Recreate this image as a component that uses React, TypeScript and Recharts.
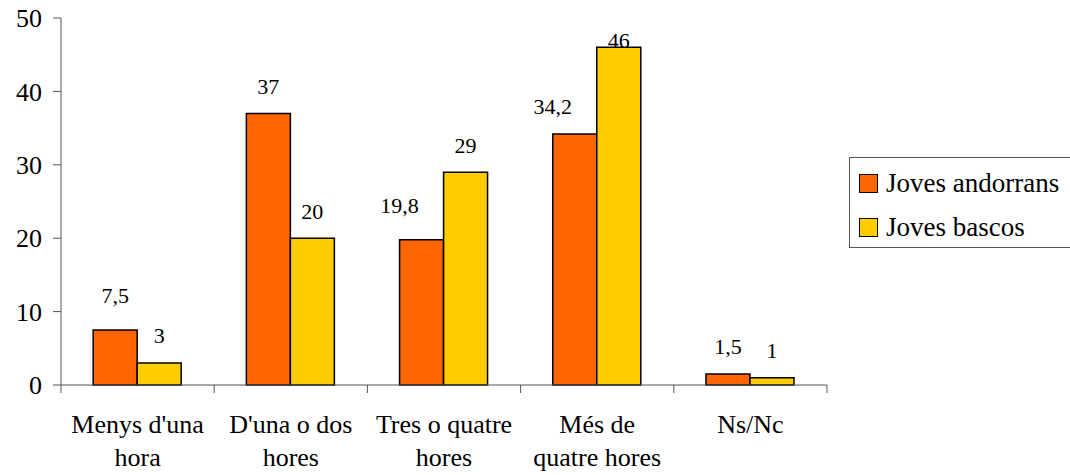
import React from 'react';
import { BarChart, Bar, XAxis, YAxis, Legend, LabelList } from 'recharts';

const categories = ["Menys d'una\nhora", "D'una o dos\nhores", 'Tres o quatre\nhores', 'Més de\nquatre hores', 'Ns/Nc'];
const andorrans = [7.5, 37, 19.8, 34.2, 1.5];
const bascos = [3, 20, 29, 46, 1];
const yTicks = [0, 10, 20, 30, 40, 50];

const SERIES = [
  { key: 'andorrans', name: 'Joves andorrans', color: '#FF6600' },
  { key: 'bascos', name: 'Joves bascos', color: '#FFCC00' },
];

const W = 1070;
const H = 475;
const LEFT = 61;
const RIGHT = 827;
const BAND = (RIGHT - LEFT) / categories.length;
const FONT = "Tinos, 'Times New Roman', Times, 'Liberation Serif', 'DejaVu Serif', 'Noto Serif', serif";
const AXIS = '#555';

const data = categories.map((c, i) => ({ name: c, andorrans: andorrans[i], bascos: bascos[i] }));

const fmt = (v: number) => String(v).replace('.', ',');

// x tick: multi-line label, tick marks sit between categories
const CategoryTick = (props: any) => {
  const { x, y, payload, index } = props;
  const lines = String(payload.value).split('\n');
  return (
    <g>
      <line x1={x - BAND / 2} x2={x - BAND / 2} y1={y} y2={y + 8} stroke={AXIS} />
      {index === categories.length - 1 && (
        <line x1={x + BAND / 2} x2={x + BAND / 2} y1={y} y2={y + 8} stroke={AXIS} />
      )}
      {lines.map((l, i) => (
        <text key={i} x={x} y={y + 48 + i * 33} textAnchor="middle" fontSize={26} fontFamily={FONT} fill="#000">
          {l}
        </text>
      ))}
    </g>
  );
};

const makeLabel = (series: string) => (props: any) => {
  const { x, y, width, value, index } = props;
  let dx = 0;
  if (series === 'andorrans' && bascos[index] > andorrans[index]) dx = -22;
  let cy = Math.max(y - 27, 40);
  if (series === 'andorrans' && andorrans[index] > 5 && andorrans[index] < 25) cy = y - 34;
  return (
    <text x={x + width / 2 + dx} y={cy + 7.5} textAnchor="middle" fontSize={22} fontFamily={FONT} fill="#000">
      {fmt(value)}
    </text>
  );
};

const renderLegend = () => (
  <div
    style={{
      boxSizing: 'border-box',
      width: 240,
      height: 91,
      border: `1px solid ${AXIS}`,
      paddingTop: 3,
      fontFamily: FONT,
      background: '#fff',
    }}
  >
    {SERIES.map((s) => (
      <div key={s.key} style={{ height: 44, display: 'flex', alignItems: 'center' }}>
        <div
          style={{
            boxSizing: 'border-box',
            width: 19,
            height: 19,
            marginLeft: 9,
            marginRight: 8,
            background: s.color,
            border: '1.5px solid #000',
          }}
        />
        <span style={{ fontSize: 27, lineHeight: 1, color: '#000' }}>{s.name}</span>
      </div>
    ))}
  </div>
);

export default function App() {
  return (
    <div style={{ position: 'absolute', left: 0, top: 0, width: W, height: H, background: '#fff', overflow: 'hidden' }}>
      <BarChart
        width={W}
        height={H}
        data={data}
        margin={{ top: 18, right: W - RIGHT, bottom: 0, left: 11 }}
        barCategoryGap="21%"
        barGap={0}
      >
        <XAxis
          dataKey="name"
          height={90}
          interval={0}
          tickSize={0}
          tickMargin={0}
          tickLine={false}
          axisLine={{ stroke: AXIS }}
          tick={<CategoryTick />}
        />
        <YAxis
          width={50}
          domain={[0, 50]}
          ticks={yTicks}
          tickSize={8}
          tickMargin={11}
          axisLine={{ stroke: AXIS }}
          tickLine={{ stroke: AXIS }}
          tick={{ fontSize: 26, fontFamily: FONT, fill: '#000' }}
        />
        <Legend
          content={renderLegend}
          layout="horizontal"
          verticalAlign="middle"
          align="center"
          wrapperStyle={{ left: 849, top: 157, width: 240, right: 'auto', bottom: 'auto' }}
        />
        {SERIES.map((s) => (
          <Bar key={s.key} dataKey={s.key} name={s.name} fill={s.color} stroke="#000" strokeWidth={1.5} isAnimationActive={false}>
            <LabelList dataKey={s.key} content={makeLabel(s.key)} />
          </Bar>
        ))}
      </BarChart>
    </div>
  );
}
